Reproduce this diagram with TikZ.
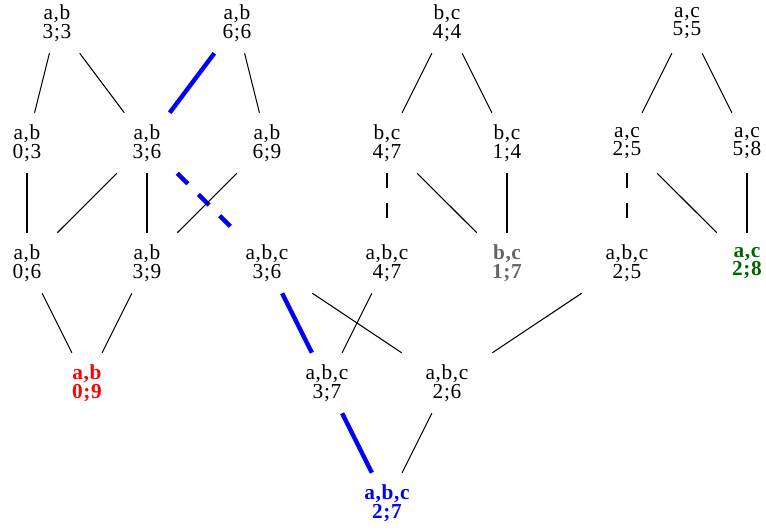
\documentclass[tikz,border=0pt]{standalone}
\usepackage{fontspec}
\setmainfont{Liberation Serif}[LetterSpace=3]
\definecolor{gbold}{RGB}{102,102,102}
\definecolor{dgreen}{RGB}{0,100,0}
\begin{document}
\begin{tikzpicture}[x=0.75pt,y=-0.75pt,
  lat/.style={rectangle, inner sep=0pt, minimum width=75pt, minimum height=45pt,
    align=center, font=\fontsize{16pt}{14pt}\selectfont},
  bnode/.style={lat, font=\fontsize{16pt}{14pt}\selectfont\bfseries},
  link/.style={line width=0.8pt},
  hot/.style={draw=blue, line width=3.3pt},
  brk/.style={dash pattern=on 11.25pt off 11.25pt}
]
\useasboundingbox (0,0) rectangle (766,529);
% row 1
\node[lat] (A1) at (57,23) {a,b\\3;3};
\node[lat] (A2) at (237,23) {a,b\\6;6};
\node[lat] (A3) at (447,23) {b,c\\4;4};
\node[lat] (A4) at (687,23) {a,c\\5;5};
% row 2
\node[lat] (B1) at (27,143) {a,b\\0;3};
\node[lat] (B2) at (147,143) {a,b\\3;6};
\node[lat] (B3) at (267,143) {a,b\\6;9};
\node[lat] (B4) at (387,143) {b,c\\4;7};
\node[lat] (B5) at (507,143) {b,c\\1;4};
\node[lat] (B6) at (627,143) {a,c\\2;5};
\node[lat] (B7) at (747,143) {a,c\\5;8};
% row 3
\node[lat] (C1) at (27,263) {a,b\\0;6};
\node[lat] (C2) at (147,263) {a,b\\3;9};
\node[lat] (C3) at (267,263) {a,b,c\\3;6};
\node[lat] (C4) at (387,263) {a,b,c\\4;7};
\node[bnode, text=gbold] (C5) at (507,263) {b,c\\1;7};
\node[lat] (C6) at (627,263) {a,b,c\\2;5};
\node[bnode, text=dgreen] (C7) at (747,263) {a,c\\2;8};
% row 4
\node[bnode, text=red] (D1) at (87,383) {a,b\\0;9};
\node[lat] (D2) at (327,383) {a,b,c\\3;7};
\node[lat] (D3) at (447,383) {a,b,c\\2;6};
% row 5
\node[bnode, text=blue] (E1) at (387,503) {a,b,c\\2;7};

% highlighted path
\draw[hot] (A2) -- (B2);
\draw[hot, brk] (B2) -- (C3);
\draw[hot] (C3) -- (D2);
\draw[hot] (D2) -- (E1);

% ordinary edges
\draw[link] (A1) -- (B1);
\draw[link] (A1) -- (B2);
\draw[link] (A2) -- (B3);
\draw[link] (B1) -- (C1);
\draw[link] (B2) -- (C1);
\draw[link] (B2) -- (C2);
\draw[link] (B3) -- (C2);
\draw[link] (C1) -- (D1);
\draw[link] (C2) -- (D1);
\draw[link] (A3) -- (B4);
\draw[link] (A3) -- (B5);
\draw[link, brk] (B4) -- (C4);
\draw[link] (B4) -- (C5);
\draw[link] (B5) -- (C5);
\draw[link] (A4) -- (B6);
\draw[link] (A4) -- (B7);
\draw[link, brk] (B6) -- (C6);
\draw[link] (B6) -- (C7);
\draw[link] (B7) -- (C7);
\draw[link] (C3) -- (D3);
\draw[link] (C4) -- (D2);
\draw[link] (C6) -- (D3);
\draw[link] (D3) -- (E1);
\end{tikzpicture}
\end{document}
